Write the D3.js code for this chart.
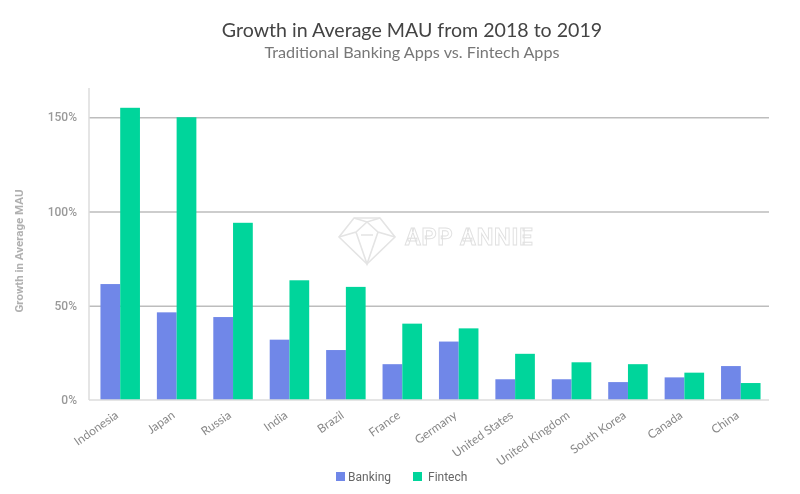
<!DOCTYPE html>
<html>
<head>
<meta charset="utf-8">
<script src="https://cdnjs.cloudflare.com/ajax/libs/d3/7.8.5/d3.min.js"></script>
<style>
html, body { margin: 0; padding: 0; background: #fff; }
svg { display: block; filter: blur(0.35px); }
text { font-family: Roboto, sans-serif; }
.axis .domain { display: none; }
</style>
</head>
<body>
<svg width="800" height="494"></svg>
<script>
var categories = ["Indonesia", "Japan", "Russia", "India", "Brazil", "France", "Germany", "United States", "United Kingdom", "South Korea", "Canada", "China"];
var banking = [61.5, 46.5, 44, 32, 26.5, 19, 31, 11, 11, 9.5, 12, 18];
var fintech = [155, 150, 94, 63.5, 60, 40.5, 38, 24.5, 20, 19, 14.5, 9];
var seriesNames = ["Banking", "Fintech"];
var seriesColors = ["#7087e8", "#00d59b"];
var yTicks = [0, 50, 100, 150];

var svg = d3.select("svg"),
	margin = {top: 88, right: 31, bottom: 94, left: 89},
	width = 800 - margin.left - margin.right,
	height = 494 - margin.top - margin.bottom;

var x = d3.scaleBand().domain(categories)
	.range([margin.left + 3, margin.left + width])
	.paddingInner(0.3).paddingOuter(0.15);
var xSub = d3.scaleBand().domain(seriesNames).range([0, x.bandwidth()]);
var y = d3.scaleLinear().domain([0, 165.5]).range([margin.top + height, margin.top]);

// Title
svg.append("text").attr("x", 412).attr("y", 37)
	.attr("text-anchor", "middle")
	.style("font-family", "Lato").style("font-size", "19.6px").attr("fill", "#444")
	.text("Growth in Average MAU from 2018 to 2019");
svg.append("text").attr("x", 412).attr("y", 58)
	.attr("text-anchor", "middle")
	.style("font-family", "Lato").style("font-size", "16.2px").attr("fill", "#777")
	.text("Traditional Banking Apps vs. Fintech Apps");

// Y axis with gridlines
var yAxis = svg.append("g").attr("class", "axis")
	.attr("transform", "translate(" + margin.left + ",0)")
	.call(d3.axisLeft(y).tickValues(yTicks).tickFormat(function(d){ return d + "%"; }).tickSize(0).tickPadding(12));
yAxis.selectAll("text")
	.style("font-size", "12px").attr("font-weight", 500).attr("fill", "#999").attr("dy", "0.3em");
yAxis.selectAll("line").filter(function(d){ return d > 0; })
	.attr("x2", width).attr("stroke", "#bdbdbd").attr("stroke-width", 1.5);

// Watermark
var mark = svg.append("g").attr("fill", "none").attr("stroke", "#e4e4e4").attr("stroke-width", 1.6);
mark.append("path").attr("d", "M339,237 L354,218 L380,218 L395,237 L367,264 Z");
mark.append("path").attr("d", "M339,237 L356,232 L367,222 L378,232 L395,237 M356,232 L367,264 L378,232 M361,235 L373,235 M354,218 L367,222 L380,218");
svg.append("text").attr("x", 405).attr("y", 245)
	.style("font-size", "23.5px").attr("font-weight", 700).style("letter-spacing", "0.8px")
	.attr("fill", "#fff").attr("stroke", "#e0e0e0").attr("stroke-width", 0.9)
	.text("APP ANNIE");

// Bars
var groups = svg.selectAll(".cat")
	.data(categories)
	.enter().append("g")
	.attr("class", "cat")
	.attr("transform", function(d){ return "translate(" + x(d) + ",0)"; });

[banking, fintech].forEach(function(values, s) {
	groups.append("rect")
		.attr("x", xSub(seriesNames[s]))
		.attr("y", function(d, i){ return y(values[i]); })
		.attr("width", xSub.bandwidth())
		.attr("height", function(d, i){ return y(0) - y(values[i]); })
		.attr("fill", seriesColors[s]);
});

// Left and bottom lines
svg.append("line").attr("x1", margin.left).attr("x2", margin.left)
	.attr("y1", margin.top).attr("y2", y(0))
	.attr("stroke", "#ddd").attr("stroke-width", 1.5);
svg.append("line").attr("x1", margin.left).attr("x2", margin.left + width)
	.attr("y1", y(0)).attr("y2", y(0))
	.attr("stroke", "#ddd").attr("stroke-width", 1.5);

// X labels
var xAxis = svg.append("g").attr("class", "axis")
	.attr("transform", "translate(0," + y(0) + ")")
	.call(d3.axisBottom(x).tickSize(0).tickFormat(function(d){ return d; }));
xAxis.selectAll("text")
	.style("font-family", "Lato").style("font-size", "12px").attr("fill", "#888")
	.attr("text-anchor", "end")
	.attr("dy", null).attr("y", 0)
	.attr("transform", "translate(-1,17) rotate(-35)");

// Y title
svg.append("text")
	.attr("transform", "translate(23,251) rotate(-90)")
	.attr("text-anchor", "middle")
	.style("font-size", "11.5px").attr("font-weight", 700).attr("fill", "#b0b0b0")
	.text("Growth in Average MAU");

// Legend
var legendX = d3.scaleOrdinal().domain(seriesNames).range([336, 413]);
var legend = svg.selectAll(".legend")
	.data(seriesNames)
	.enter().append("g")
	.attr("class", "legend")
	.attr("transform", function(d){ return "translate(" + legendX(d) + ",472)"; });
legend.append("rect").attr("width", 9).attr("height", 9)
	.attr("fill", function(d, i){ return seriesColors[i]; });
legend.append("text").attr("x", function(d, i){ return i ? 15 : 12; }).attr("y", 9)
	.style("font-size", "12px").attr("fill", "#666")
	.text(function(d){ return d; });
</script>
</body>
</html>
